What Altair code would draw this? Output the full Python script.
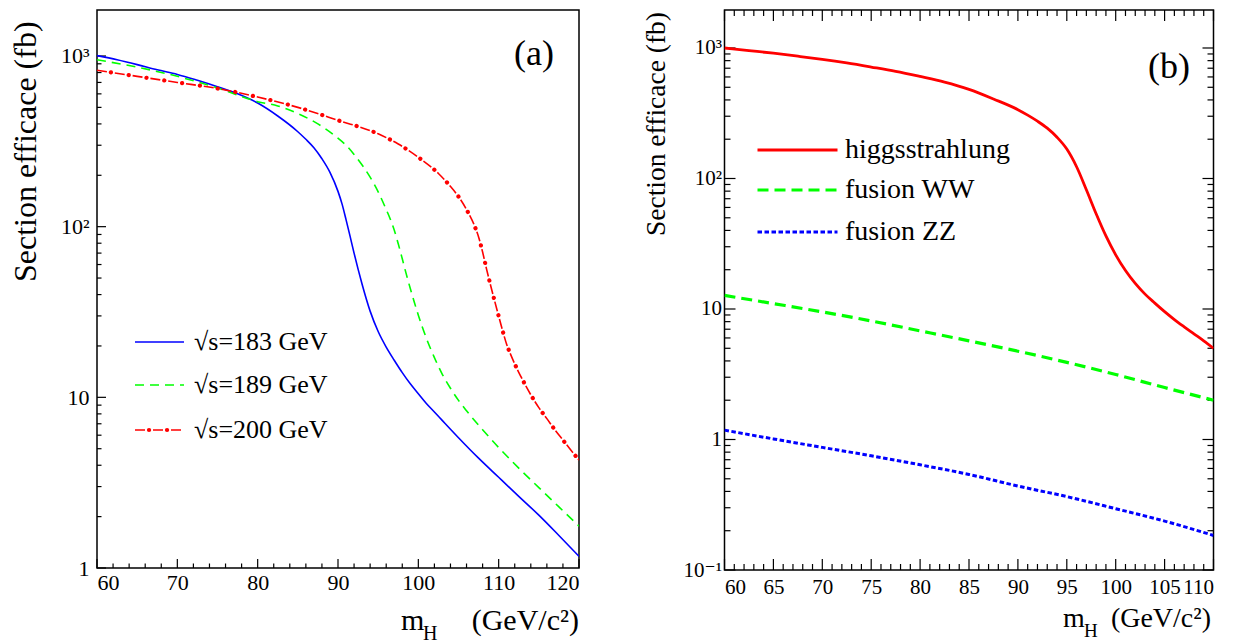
import altair as alt
import pandas as pd

FONT = "'Liberation Serif', 'Times New Roman', 'DejaVu Serif', serif"

# ---------------- panel (a) data ----------------
mh_183 = [60, 62.5, 65, 67.5, 70, 72.5, 75, 77.5, 80, 82.5, 85, 86, 87, 88, 89, 90, 90.5, 91, 91.5, 92,
          92.5, 93, 94, 95, 96, 97, 98, 99, 100, 101, 102, 103, 104, 105, 107.5, 110, 112.5, 115, 117.5, 120]
xs_183 = [1005, 950, 890, 830, 780, 720, 660, 600, 530, 445, 360, 325, 290, 250, 208, 161, 136, 110, 88, 70,
          56.4, 46.0, 32.0, 24.3, 19.7, 16.5, 13.96, 12.0, 10.5, 9.2, 8.2, 7.3, 6.5, 5.8, 4.4, 3.4, 2.63, 2.04, 1.55, 1.17]

mh_189 = [60, 65, 70, 72.5, 75, 77.5, 80, 82.5, 85, 87.5, 90, 91, 92, 93, 94, 95, 96, 96.5, 97, 97.5, 98,
          98.5, 99, 99.5, 100, 101, 102, 103, 104, 105, 106, 107, 108, 110, 112.5, 115, 117.5, 120]
xs_189 = [950, 860, 760, 705, 650, 590, 540, 510, 460, 400, 330, 300, 265, 230, 195, 160, 126, 111, 95.5, 79.4, 64.9,
          52.7, 43.4, 36.1, 30.3, 22.2, 17.1, 13.6, 11.3, 9.6, 8.34, 7.31, 6.46, 5.08, 3.85, 2.96, 2.28, 1.76]

mh_200 = [60, 65, 70, 75, 80, 85, 90, 95, 97.5, 100, 102.5, 104, 105, 106, 107, 107.5, 108, 108.5, 109,
          109.5, 110, 110.5, 111, 111.5, 112, 112.5, 113, 114, 115, 116, 117, 118, 119, 120]
xs_200 = [825, 760, 700, 645, 575, 500, 420, 350, 305, 255, 205, 172, 150, 126, 101, 87, 71, 56.2, 45.2,
          36.7, 29.9, 24.5, 20.4, 17.8, 15.7, 14.0, 12.6, 10.35, 8.7, 7.5, 6.45, 5.62, 4.9, 4.29]

legend_a = ["\u221as=183 GeV", "\u221as=189 GeV", "\u221as=200 GeV"]

# ---------------- panel (b) data ----------------
mh_hs = [60, 62.5, 65, 67.5, 70, 72.5, 75, 77.5, 80, 82.5, 85, 87.5, 90, 91, 92, 93, 94, 95, 96,
         97, 98, 99, 100, 101, 102, 103, 104, 105, 106, 107, 108, 109, 110]
xs_hs = [1000, 955, 912, 865, 818, 768, 715, 663, 605, 548, 482, 407, 337, 306, 275, 243, 207, 168, 123,
         82, 53.7, 36.3, 26.0, 19.7, 15.7, 13.0, 11.1, 9.55, 8.3, 7.3, 6.45, 5.7, 5.0]

mh_fus = [60, 65, 70, 75, 80, 85, 90, 95, 100, 105, 110]
xs_ww = [12.7, 11.0, 9.5, 8.1, 6.8, 5.7, 4.75, 3.9, 3.15, 2.5, 2.0]
xs_zz = [1.18, 1.01, 0.87, 0.75, 0.64, 0.54, 0.44, 0.365, 0.295, 0.237, 0.184]

legend_b = ["higgsstrahlung", "fusion WW", "fusion ZZ"]

# tick values (axis furniture)
xa_major = [60, 70, 80, 90, 100, 110, 120]
xa_minor = [v for v in range(62, 120, 2) if v % 10 != 0]
ya_major = [1, 10, 100, 1000]
ya_minor = [k * 10 ** d for d in range(0, 3) for k in range(2, 10)]
xb_major = [60, 65, 70, 75, 80, 85, 90, 95, 100, 105, 110]
xb_minor = [v for v in range(61, 110) if v % 5 != 0]
yb_major = [0.1, 1, 10, 100, 1000]
yb_minor = [round(k * 10.0 ** d, 4) for d in range(-1, 3) for k in range(2, 10)]

BLUE, GREEN, RED = "#0000ff", "#00ff00", "#ff0000"
ONE = pd.DataFrame({"k": [0]})

# ---------------- geometry ----------------
WA, HA = 482, 558
WB, HB = 489, 560

XSA = alt.Scale(domain=[60, 120], nice=False, zero=False)
YSA = alt.Scale(type="log", domain=[1, 1860], nice=False)
XSB = alt.Scale(domain=[60, 110], nice=False, zero=False)
YSB = alt.Scale(type="log", domain=[0.1, 1955], nice=False)

FS = "\u2007\u2009"
XAXA = alt.Axis(values=xa_major, format="d", labelFont=FONT, labelFontSize=22, labelPadding=4,
                ticks=False, domain=False, grid=False, title="", labelColor="black", labelOverlap=False)
YAXA = alt.Axis(values=ya_major, labelFont=FONT, labelFontSize=22, labelPadding=8, ticks=False,
                domain=False, grid=False, title="", labelColor="black", labelOverlap=False,
                labelExpr=f"datum.value > 500 ? '10\u00b3' : datum.value > 50 ? '10\u00b2' : datum.value > 5 ? '10{FS}' : '1{FS}'")
XAXB = alt.Axis(values=xb_major, format="d", labelFont=FONT, labelFontSize=21, labelPadding=6,
                ticks=False, domain=False, grid=False, title="", labelColor="black", labelOverlap=False)
YAXB = alt.Axis(values=yb_major, labelFont=FONT, labelFontSize=21, labelPadding=3, ticks=False,
                domain=False, grid=False, title="", labelColor="black", labelOverlap=False,
                labelExpr=f"datum.value > 500 ? '10\u00b3' : datum.value > 50 ? '10\u00b2' : datum.value > 5 ? '10{FS}' : datum.value > 0.5 ? '1{FS}' : '10\u207b\u00b9'")


def curve(xs, ys, xsc, ysc, xax, yax, color, width, dash=None, cap="butt", offset=None):
    df = pd.DataFrame({"m": xs, "s": ys})
    kw = dict(color=color, strokeWidth=width, interpolate="monotone", strokeCap=cap, clip=True)
    if dash is not None:
        kw["strokeDash"] = dash
    if offset is not None:
        kw["strokeDashOffset"] = offset
    return alt.Chart(df).mark_line(**kw).encode(
        x=alt.X("m:Q", scale=xsc, axis=xax),
        y=alt.Y("s:Q", scale=ysc, axis=yax),
    )


def xticks(vals, xsc, xax, y0, y1, width=1.2):
    return alt.Chart(pd.DataFrame({"m": vals})).mark_rule(color="black", strokeWidth=width).encode(
        x=alt.X("m:Q", scale=xsc, axis=xax), y=alt.value(y0), y2=alt.value(y1))


def yticks(vals, ysc, yax, x0, x1, width=1.2):
    return alt.Chart(pd.DataFrame({"s": vals})).mark_rule(color="black", strokeWidth=width).encode(
        y=alt.Y("s:Q", scale=ysc, axis=yax), x=alt.value(x0), x2=alt.value(x1))


def text(t, x, y, size, align="left", baseline="alphabetic", angle=0):
    return alt.Chart(ONE).mark_text(text=t, font=FONT, fontSize=size, align=align, baseline=baseline,
                                    angle=angle, color="black").encode(x=alt.value(x), y=alt.value(y))


def sample(x0, x1, y, color, width, dash=None, cap="butt", offset=None, opacity=1):
    kw = dict(color=color, strokeWidth=width, strokeCap=cap, opacity=opacity)
    if dash is not None:
        kw["strokeDash"] = dash
    if offset is not None:
        kw["strokeDashOffset"] = offset
    return alt.Chart(ONE).mark_rule(**kw).encode(x=alt.value(x0), x2=alt.value(x1), y=alt.value(y))


# ---------------- panel (a) ----------------
la = [
    xticks(xa_major, XSA, XAXA, HA, HA - 9),
    xticks(xa_minor, XSA, XAXA, HA, HA - 4.5),
    yticks(ya_major, YSA, YAXA, 0, 9),
    yticks(ya_minor, YSA, YAXA, 0, 4.5),
    curve(mh_183, xs_183, XSA, YSA, XAXA, YAXA, BLUE, 1.6),
    curve(mh_189, xs_189, XSA, YSA, XAXA, YAXA, GREEN, 1.6, dash=[9, 6]),
    curve(mh_200, xs_200, XSA, YSA, XAXA, YAXA, RED, 1.6, dash=[10, 8]),
    curve(mh_200, xs_200, XSA, YSA, XAXA, YAXA, RED, 4.2, dash=[0.1, 17.9], cap="round", offset=4),
    sample(38, 87, 332, BLUE, 1.6),
    sample(38, 87, 375, GREEN, 1.6, dash=[9, 6]),
    sample(38, 87, 420, RED, 1.6, dash=[10, 8]),
    sample(38, 87, 420, RED, 4.2, dash=[0.1, 17.9], cap="round", offset=4),
    text(legend_a[0], 97, 332, 26, baseline="middle"),
    text(legend_a[1], 97, 375, 26, baseline="middle"),
    text(legend_a[2], 97, 420, 26, baseline="middle"),
    text("(a)", 457, 55, 36, align="right"),
    text("Section efficace  (fb)", -71, 272, 32, baseline="middle", angle=270),
    text("m", 304, 620, 30),
    text("H", 326, 630, 20),
    text("(GeV/c\u00b2)", 482, 620, 30, align="right"),
    sample(-88, -87, 10, "white", 1, opacity=0),
]
panel_a = alt.layer(*la).properties(width=WA, height=HA)

# ---------------- panel (b) ----------------
lb = [
    xticks(xb_major, XSB, XAXB, HB, HB - 11),
    xticks(xb_minor, XSB, XAXB, HB, HB - 6),
    xticks(xb_major, XSB, XAXB, 0, 11),
    xticks(xb_minor, XSB, XAXB, 0, 6),
    yticks(yb_major, YSB, YAXB, 0, 11),
    yticks(yb_minor, YSB, YAXB, 0, 6),
    yticks(yb_major, YSB, YAXB, WB, WB - 11),
    yticks(yb_minor, YSB, YAXB, WB, WB - 6),
    curve(mh_hs, xs_hs, XSB, YSB, XAXB, YAXB, RED, 2.8),
    curve(mh_fus, xs_ww, XSB, YSB, XAXB, YAXB, GREEN, 3.2, dash=[11, 6]),
    curve(mh_fus, xs_zz, XSB, YSB, XAXB, YAXB, BLUE, 3.0, dash=[4.5, 2.5]),
    sample(33, 113, 140, RED, 2.8),
    sample(33, 113, 180, GREEN, 3.2, dash=[11, 6]),
    sample(33, 113, 222, BLUE, 3.0, dash=[4.5, 2.5]),
    text(legend_b[0], 120.5, 140, 28, baseline="middle"),
    text(legend_b[1], 120.5, 180, 28, baseline="middle"),
    text(legend_b[2], 120.5, 222, 28, baseline="middle"),
    text("(b)", 465.5, 68, 36, align="right"),
    text("Section efficace (fb)", -67.5, 226, 27.5, baseline="middle", angle=270),
    text("m", 338.5, 617, 28),
    text("H", 359.5, 627, 19),
    text("(GeV/c\u00b2)", 486.5, 617, 28, align="right"),
]
panel_b = alt.layer(*lb).properties(width=WB, height=HB)

chart = alt.hconcat(panel_a, panel_b, spacing=145.5, bounds="flush").properties(
    padding=0, background="white"
).configure_view(stroke="black", strokeWidth=1.5)

chart.save("out.html", embed_options={"renderer": "svg", "actions": False})
